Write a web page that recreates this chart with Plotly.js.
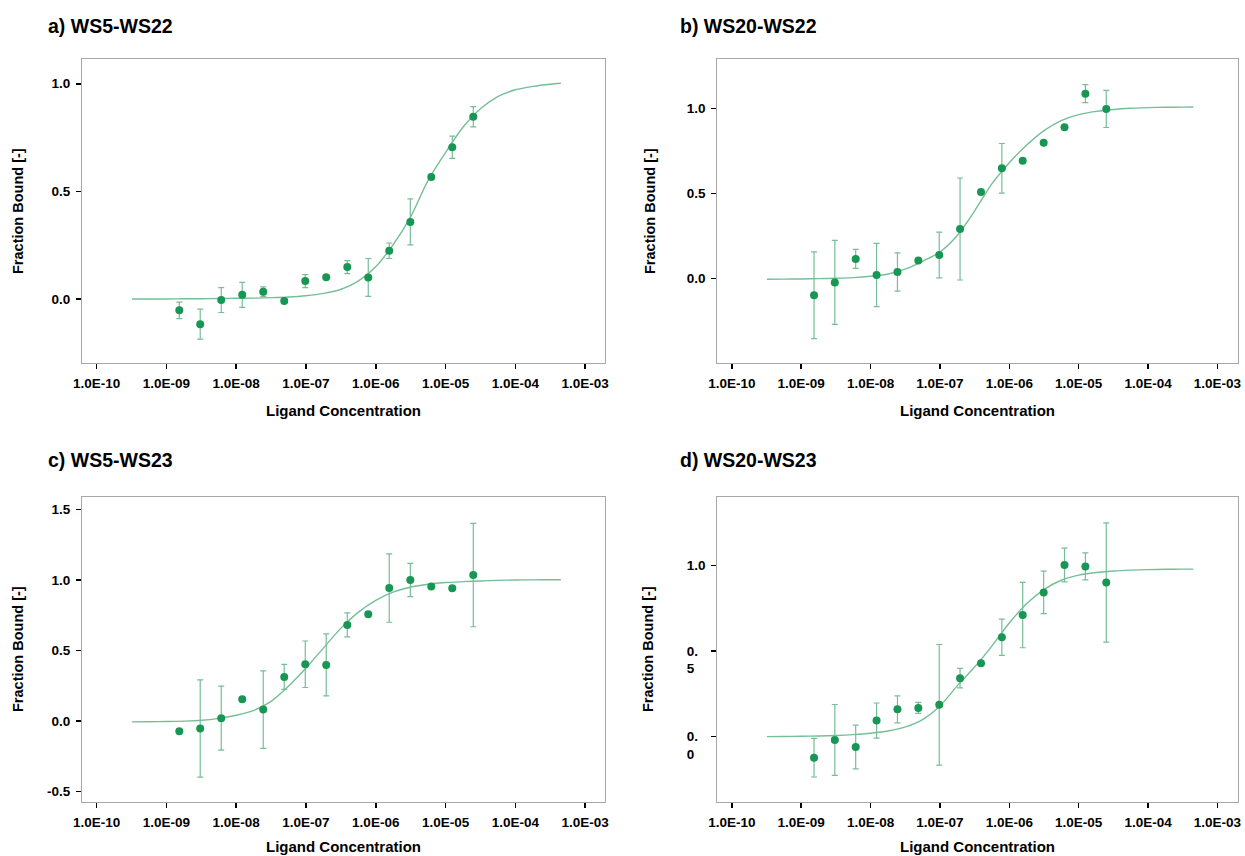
<!DOCTYPE html>
<html>
<head>
<meta charset="utf-8">
<script src="https://cdn.plot.ly/plotly-3.0.1.min.js"></script>
<style>
  html, body { margin: 0; padding: 0; background: #ffffff; }
  #chart { width: 1245px; height: 856px; }
</style>
</head>
<body>
<div id="chart"></div>
<script>
// ---- data ----
const concentration = [1.53e-9, 3.05e-9, 6.1e-9, 1.22e-8, 2.44e-8, 4.88e-8, 9.77e-8, 1.95e-7,
                       3.91e-7, 7.81e-7, 1.56e-6, 3.13e-6, 6.25e-6, 1.25e-5, 2.5e-5];

const boundA = [-0.053, -0.117, -0.005, 0.019, 0.034, -0.009, 0.083, 0.101, 0.148, 0.100, 0.224, 0.358, 0.567, 0.705, 0.847];
const errA   = [0.038, 0.070, 0.058, 0.058, 0.022, 0.010, 0.030, 0, 0.030, 0.088, 0.036, 0.107, 0, 0.052, 0.047];

const boundB = [-0.100, -0.024, 0.114, 0.019, 0.037, 0.104, 0.137, 0.290, 0.508, 0.647, 0.692, 0.798, 0.888, 1.086, 0.996];
const errB   = [0.255, 0.247, 0.056, 0.186, 0.112, 0, 0.135, 0.300, 0, 0.146, 0, 0, 0, 0.053, 0.109];

const boundC = [-0.073, -0.054, 0.019, 0.154, 0.080, 0.312, 0.402, 0.397, 0.681, 0.757, 0.943, 1.000, 0.953, 0.941, 1.035];
const errC   = [0, 0.345, 0.227, 0, 0.275, 0.089, 0.165, 0.220, 0.085, 0, 0.243, 0.118, 0, 0, 0.367];

const boundD = [-0.123, -0.019, -0.060, 0.094, 0.160, 0.168, 0.186, 0.342, 0.430, 0.582, 0.711, 0.844, 1.004, 0.996, 0.902];
const errD   = [0.113, 0.207, 0.128, 0.103, 0.079, 0.032, 0.353, 0.057, 0, 0.106, 0.191, 0.124, 0.099, 0.079, 0.349];

// fitted curves at quarter-decade steps
const fitConc = [3.2e-10, 5.6e-10, 1e-9, 1.8e-9, 3.2e-9, 5.6e-9, 1e-8, 1.8e-8, 3.2e-8, 5.6e-8,
                 1e-7, 1.8e-7, 3.2e-7, 5.6e-7, 1e-6, 1.8e-6, 3.2e-6, 5.6e-6, 1e-5, 1.8e-5,
                 3.2e-5, 5.6e-5, 1e-4, 1.8e-4, 3.2e-4, 4.5e-4];
const fitA = [0, 0, 0, 0.001, 0.001, 0.002, 0.003, 0.004, 0.006, 0.009, 0.015, 0.026, 0.045, 0.083,
              0.15, 0.255, 0.385, 0.55, 0.68, 0.80, 0.885, 0.94, 0.972, 0.988, 0.998, 1.002];
const fitB = [-0.006, -0.005, -0.004, -0.002, 0.000, 0.004, 0.012, 0.025, 0.055, 0.10, 0.155, 0.255, 0.40,
              0.555, 0.68, 0.785, 0.87, 0.928, 0.963, 0.982, 0.993, 1.0, 1.004, 1.006, 1.007, 1.008];
const fitC = [-0.007, -0.006, -0.005, -0.002, 0.004, 0.018, 0.04, 0.075, 0.14, 0.245, 0.375, 0.52, 0.66,
              0.77, 0.855, 0.915, 0.95, 0.97, 0.982, 0.988, 0.993, 0.997, 1.0, 1.001, 1.002, 1.002];
const fitD = [0.0, 0.001, 0.002, 0.004, 0.007, 0.012, 0.02, 0.033, 0.057, 0.10, 0.18, 0.30, 0.41,
              0.53, 0.665, 0.78, 0.862, 0.915, 0.945, 0.96, 0.969, 0.974, 0.977, 0.979, 0.98, 0.98];

const xTickVals = [1e-10, 1e-9, 1e-8, 1e-7, 1e-6, 1e-5, 1e-4, 1e-3];
const xTickText = ['1.0E-10', '1.0E-09', '1.0E-08', '1.0E-07', '1.0E-06', '1.0E-05', '1.0E-04', '1.0E-03'];

const panelTitles = ['a) WS5-WS22', 'b) WS20-WS22', 'c) WS5-WS23', 'd) WS20-WS23'];
const yTitle = 'Fraction Bound [-]';
const xTitle = 'Ligand Concentration';

// ---- styling ----
const FONT = 'Liberation Sans, Arial, Helvetica, sans-serif';
const DOT = 'rgb(24,150,84)';
const LINE = 'rgb(118,190,152)';

const panels = [
  {y: boundA, e: errA, fit: fitA, xa: 'x',  ya: 'y'},
  {y: boundB, e: errB, fit: fitB, xa: 'x2', ya: 'y2'},
  {y: boundC, e: errC, fit: fitC, xa: 'x3', ya: 'y3'},
  {y: boundD, e: errD, fit: fitD, xa: 'x4', ya: 'y4'}
];

const traces = [];
panels.forEach(p => {
  traces.push({
    type: 'scatter', mode: 'lines', x: fitConc, y: p.fit, xaxis: p.xa, yaxis: p.ya,
    line: {color: LINE, width: 1.4, shape: 'spline', smoothing: 0.8}, hoverinfo: 'skip', showlegend: false
  });
  traces.push({
    type: 'scatter', mode: 'markers', x: concentration, y: p.y, xaxis: p.xa, yaxis: p.ya,
    marker: {color: DOT, size: 8},
    error_y: {type: 'data', array: p.e, visible: true, color: LINE, thickness: 1.2, width: 3},
    showlegend: false
  });
});

function xAxis(domain, anchor) {
  return {
    type: 'log', domain: domain, anchor: anchor, range: [-10.21, -2.71],
    tickvals: xTickVals, ticktext: xTickText,
    ticks: 'outside', ticklen: 5, tickwidth: 1.5, tickcolor: '#000', ticklabelstandoff: 2,
    tickfont: {family: FONT, size: 13.5, color: '#000', weight: 'bold'},
    showline: true, mirror: true, linecolor: '#a8a8a8', linewidth: 1,
    showgrid: false, zeroline: false, automargin: false, fixedrange: true
  };
}
function yAxis(domain, anchor, range, vals, text) {
  return {
    domain: domain, anchor: anchor, range: range,
    tickvals: vals, ticktext: text,
    ticks: 'outside', ticklen: 5, tickwidth: 1.5, tickcolor: '#000', ticklabelstandoff: 3,
    tickfont: {family: FONT, size: 13.5, color: '#000', weight: 'bold'},
    showline: true, mirror: true, linecolor: '#a8a8a8', linewidth: 1,
    showgrid: false, zeroline: false, automargin: false, fixedrange: true
  };
}

const W = 1245, H = 856;
const domLeft = [82 / W, 605.3 / W];
const domRight = [717.3 / W, 1237.5 / W];
const domTop = [(H - 363.3) / H, (H - 59) / H];
const domBot = [(H - 802.3) / H, (H - 497) / H];

const annFont = (size) => ({family: FONT, size: size, color: '#000', weight: 'bold'});
const annotations = [];
const titlePos = [[46, 26], [678, 26], [46, 460], [678, 460]];
panelTitles.forEach((t, i) => {
  annotations.push({text: t, xref: 'paper', yref: 'paper', x: titlePos[i][0] / W, y: (H - titlePos[i][1]) / H,
    xanchor: 'left', yanchor: 'middle', showarrow: false, font: annFont(19.5)});
});
const yTitlePos = [[18, 211], [650, 211], [18, 649], [648, 649]];
yTitlePos.forEach(p => {
  annotations.push({text: yTitle, xref: 'paper', yref: 'paper', x: p[0] / W, y: (H - p[1]) / H,
    xanchor: 'center', yanchor: 'middle', textangle: -90, showarrow: false, font: annFont(14.5)});
});
const xTitlePos = [[343.6, 410], [977, 410], [343.6, 846], [977, 846]];
xTitlePos.forEach(p => {
  annotations.push({text: xTitle, xref: 'paper', yref: 'paper', x: p[0] / W, y: (H - p[1]) / H,
    xanchor: 'center', yanchor: 'middle', showarrow: false, font: annFont(15)});
});

const layout = {
  width: W, height: H,
  margin: {l: 0, r: 0, t: 0, b: 0},
  paper_bgcolor: '#ffffff', plot_bgcolor: '#ffffff',
  showlegend: false,
  font: {family: FONT, color: '#000'},
  xaxis:  xAxis(domLeft, 'y'),
  yaxis:  yAxis(domTop, 'x', [-0.299, 1.115], [0, 0.5, 1.0], ['0.0', '0.5', '1.0']),
  xaxis2: xAxis(domRight, 'y2'),
  yaxis2: yAxis(domTop, 'x2', [-0.50, 1.29], [0, 0.5, 1.0], ['0.0', '0.5', '1.0']),
  xaxis3: xAxis(domLeft, 'y3'),
  yaxis3: yAxis(domBot, 'x3', [-0.578, 1.589], [-0.5, 0, 0.5, 1.0, 1.5], ['-0.5', '0.0', '0.5', '1.0', '1.5']),
  xaxis4: xAxis(domRight, 'y4'),
  yaxis4: yAxis(domBot, 'x4', [-0.384, 1.402], [0, 0.5, 1.0],
                ['&nbsp;<br>0.&nbsp;&nbsp;<br>0&nbsp;&nbsp;&nbsp;', '&nbsp;<br>0.&nbsp;&nbsp;<br>5&nbsp;&nbsp;&nbsp;', '1.0']),
  annotations: annotations
};

Plotly.newPlot('chart', traces, layout, {displayModeBar: false, staticPlot: true});
</script>
</body>
</html>
